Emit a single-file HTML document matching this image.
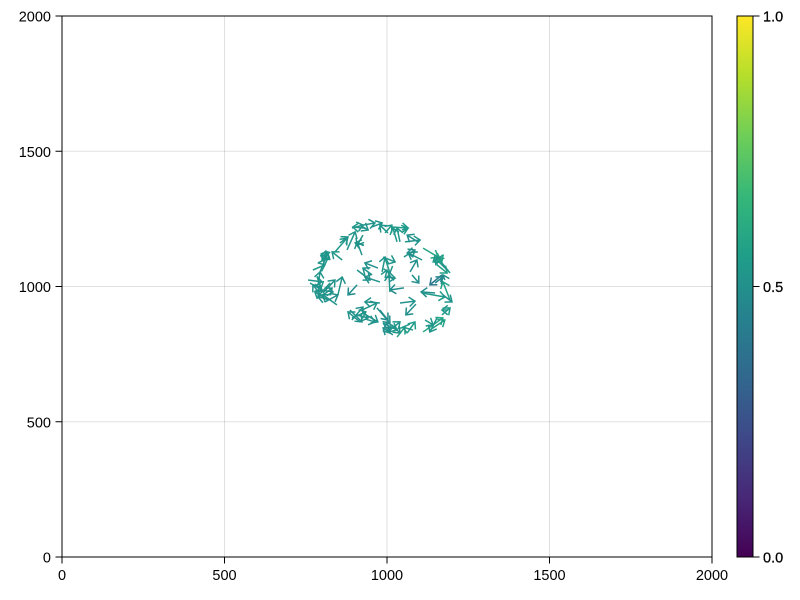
<!DOCTYPE html>
<html>
<head>
<meta charset="utf-8">
<title>Arrow field chart</title>
<style>
html,body{margin:0;padding:0;background:#fff;width:800px;height:600px;overflow:hidden}
svg{display:block}
text{font-family:"Liberation Sans",sans-serif;font-size:14.5px;fill:#000}
</style>
</head>
<body>
<svg id="chart" width="800" height="600" viewBox="0 0 800 600" xmlns="http://www.w3.org/2000/svg">
<defs><linearGradient id="viridis-gradient" x1="0" y1="1" x2="0" y2="0"></linearGradient></defs>
<g id="grid"></g>
<g id="arrows"></g>
<g id="axes"></g>
<g id="colorbar"></g>
</svg>
<script>
const xTickValues = [0, 500, 1000, 1500, 2000];
const yTickValues = [0, 500, 1000, 1500, 2000];
const colorbarTicks = [0, 0.5, 1];
const colorbarLabels = ["0.0", "0.5", "1.0"];
const viridisStops = ["#440154","#482878","#3e4989","#31688e","#26828e","#1f9e89","#35b779","#6ece58","#b5de2b","#fde725"];

const tailX = [
862,803,794,840,855,877,892,932,926,954,
1003,926,923,929,772,788,908,972,954,985,
994,1015,1031,1040,1046,1095,1055,1111,1194,1052,
1095,1108,1071,988,994,994,1178,1154,757,785,
803,849,908,809,794,846,809,978,923,978,
886,892,926,969,988,1052,1009,994,1077,1040,
1089,1148,1108,1169,1148,1194,1172,1169,1188,1111,
1117,1154,978,988,1031,1062,1080,1009,1015,763,
1185,1154,1132,905,932,917,825,788,818,800,
800,818,825,892,917,1009,1018,1172];
const tailY = [
1098,1072,1054,1128,1161,1135,1216,1216,1227,1220,
1198,1190,1116,1153,1061,1087,1061,1068,1043,1054,
1198,1220,1165,1165,1209,1165,1165,1142,1050,1109,
1128,1098,1054,1109,1105,1031,1024,1080,1024,1035,
976,969,1006,950,987,932,943,1017,913,939,
913,876,902,921,865,995,980,1035,1043,939,
935,976,976,1043,1013,950,969,895,913,832,
876,884,913,865,813,828,839,828,858,1013,
1061,1124,839,895,880,1227,1128,1006,954,1098,
965,950,1013,884,869,839,821,1116];
const headX = [
831,812,818,877,880,902,926,895,963,985,
978,908,908,902,809,818,948,932,926,994,
1015,1065,1018,1031,1065,1062,1102,1157,1154,1086,
1062,1065,1092,1025,1009,1000,1172,1185,800,797,
840,862,880,772,834,803,849,932,969,932,
923,926,972,1009,1009,1009,1006,1025,1098,1086,
1058,1105,1178,1132,1172,1172,1200,1194,1169,1172,
1142,1132,1003,1031,1055,1086,1049,1000,1040,800,
1148,1169,1178,942,963,942,800,794,788,818,
831,778,788,935,880,1040,988,1142];
const headY = [
1128,1131,1124,1179,1183,1202,1227,1220,1235,1235,
1227,1153,1165,1161,1080,1105,1024,1087,1068,1109,
1227,1216,1216,1216,1216,1190,1172,1109,1109,1135,
1124,1124,1098,1091,1050,1061,1043,1050,1017,994,
1024,1035,969,1006,980,969,969,1035,939,943,
869,924,869,865,828,987,1043,1031,1013,946,
895,980,961,1006,1035,1017,943,921,913,884,
858,832,876,839,850,869,850,869,828,987,
1105,1091,876,884,869,1209,1098,1054,961,1128,
994,980,965,906,906,869,847,1091];
const arrowValues = [
0.53,0.52,0.52,0.53,0.52,0.51,0.52,0.53,0.51,0.52,
0.52,0.51,0.52,0.51,0.53,0.52,0.51,0.5,0.51,0.52,
0.53,0.55,0.53,0.53,0.54,0.5,0.52,0.59,0.53,0.51,
0.5,0.51,0.5,0.52,0.53,0.52,0.49,0.57,0.52,0.53,
0.51,0.51,0.49,0.52,0.51,0.52,0.5,0.5,0.51,0.51,
0.5,0.51,0.52,0.5,0.53,0.49,0.52,0.51,0.5,0.51,
0.5,0.49,0.55,0.4,0.47,0.57,0.51,0.55,0.53,0.59,
0.53,0.51,0.49,0.53,0.57,0.55,0.53,0.49,0.52,0.52,
0.51,0.59,0.57,0.52,0.51,0.52,0.53,0.52,0.51,0.52,
0.51,0.52,0.51,0.52,0.51,0.52,0.5,0.53];

const NS = "http://www.w3.org/2000/svg";
const plotLeft = 62, plotRight = 712, plotTop = 16, plotBottom = 557;
const barLeft = 737, barRight = 753;
const xScale = v => plotLeft + (v / 2000) * (plotRight - plotLeft);
const yScale = v => plotBottom - (v / 2000) * (plotBottom - plotTop);
const barScale = v => plotBottom - v * (plotBottom - plotTop);

function hexToRgb(h){ return [1,3,5].map(i => parseInt(h.substr(i,2),16)); }
function viridis(t){
  const p = Math.max(0, Math.min(1, t)) * (viridisStops.length - 1);
  const i = Math.min(Math.floor(p), viridisStops.length - 2);
  const a = hexToRgb(viridisStops[i]), b = hexToRgb(viridisStops[i+1]), f = p - i;
  return "rgb(" + a.map((c,k) => Math.round(c + (b[k]-c)*f)).join(",") + ")";
}
function mk(tag, parent, attrs){
  const el = document.createElementNS(NS, tag);
  for (const k in attrs) el.setAttribute(k, attrs[k]);
  parent.appendChild(el);
  return el;
}

const gridG = document.getElementById("grid");
const axesG = document.getElementById("axes");
const arrowsG = document.getElementById("arrows");
const barG = document.getElementById("colorbar");
const grad = document.getElementById("viridis-gradient");

viridisStops.forEach((c, i) => {
  mk("stop", grad, {offset: (i / (viridisStops.length - 1)), "stop-color": c});
});

xTickValues.slice(1, -1).forEach(v => {
  const l = mk("line", gridG, {x1: xScale(v), x2: xScale(v), y1: plotTop, y2: plotBottom, stroke: "#000", "stroke-opacity": 0.12, "stroke-width": 1});
  
  
});
yTickValues.slice(1, -1).forEach(v => {
  const l = mk("line", gridG, {x1: plotLeft, x2: plotRight, y1: yScale(v), y2: yScale(v), stroke: "#000", "stroke-opacity": 0.12, "stroke-width": 1});
  
  
});

tailX.forEach((x0, i) => {
  const px0 = xScale(x0), py0 = yScale(tailY[i]);
  const px1 = xScale(headX[i]), py1 = yScale(headY[i]);
  const ang = Math.atan2(py1 - py0, px1 - px0);
  const hl = 7.5, spread = 0.68;
  const ax = px1 - hl * Math.cos(ang - spread), ay = py1 - hl * Math.sin(ang - spread);
  const bx = px1 - hl * Math.cos(ang + spread), by = py1 - hl * Math.sin(ang + spread);
  const p = mk("path", arrowsG, {
    d: "M" + px0 + " " + py0 + "L" + px1 + " " + py1 + "M" + ax + " " + ay + "L" + px1 + " " + py1 + "L" + bx + " " + by,
    fill: "none", stroke: viridis(arrowValues[i]), "stroke-width": 1.5
  });
  
  
});

const frame = mk("rect", axesG, {x: plotLeft, y: plotTop, width: plotRight - plotLeft, height: plotBottom - plotTop, fill: "none", stroke: "#000", "stroke-width": 1});



xTickValues.forEach(v => {
  const t = mk("line", axesG, {x1: xScale(v), x2: xScale(v), y1: plotBottom, y2: plotBottom + 6.5, stroke: "#000", "stroke-width": 1});
  
  
  const l = mk("text", axesG, {x: xScale(v), y: 580, "text-anchor": "middle"});
  l.textContent = String(v);
  
  
});
yTickValues.forEach(v => {
  const t = mk("line", axesG, {x1: plotLeft - 6.5, x2: plotLeft, y1: yScale(v), y2: yScale(v), stroke: "#000", "stroke-width": 1});
  
  
  const l = mk("text", axesG, {x: 51, y: yScale(v) + 5.5, "text-anchor": "end"});
  l.textContent = String(v);
  
  
});

const barRect = mk("rect", barG, {x: barLeft, y: plotTop, width: barRight - barLeft, height: plotBottom - plotTop, fill: "url(#viridis-gradient)", stroke: "#000", "stroke-width": 1});



colorbarTicks.forEach((v, i) => {
  const t = mk("line", barG, {x1: barRight, x2: barRight + 6.5, y1: barScale(v), y2: barScale(v), stroke: "#000", "stroke-width": 1});
  
  
  const l = mk("text", barG, {x: 763, y: barScale(v) + 5.5, stroke: "#000", "stroke-width": 0.25});
  l.textContent = colorbarLabels[i];
  
  
});
</script>
</body>
</html>
